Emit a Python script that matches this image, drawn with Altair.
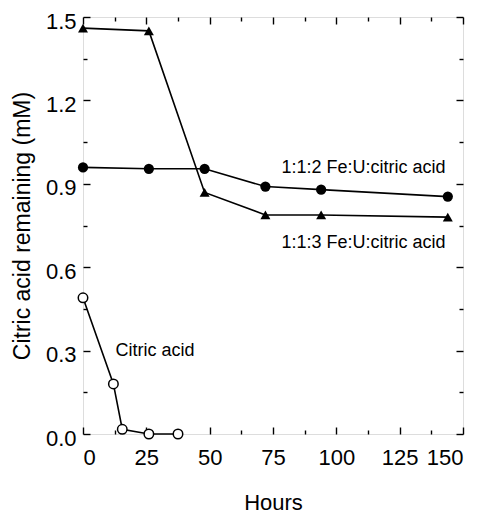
import altair as alt
import pandas as pd

# ---- data ----
hours_tri = [0, 26, 48, 72, 94, 144]
conc_tri = [1.46, 1.45, 0.869, 0.788, 0.788, 0.78]

hours_fill = [0, 26, 48, 72, 94, 144]
conc_fill = [0.959, 0.954, 0.954, 0.89, 0.879, 0.854]

hours_open = [0, 12, 15.5, 26, 37.5]
conc_open = [0.49, 0.18, 0.017, 0.0, 0.0]

label_text = ["1:1:2 Fe:U:citric acid", "1:1:3 Fe:U:citric acid", "Citric acid"]
label_x = [110.7, 110.7, 28.4]
label_y = [0.957, 0.686, 0.297]

x_major = [0, 25, 50, 75, 100, 125, 150]
x_minor = [12.5, 37.5, 62.5, 87.5, 112.5, 137.5]
y_major = [0.0, 0.3, 0.6, 0.9, 1.2, 1.5]
y_minor = [0.15, 0.45, 0.75, 1.05, 1.35]

W, H = 380, 417
FONT = "Liberation Sans"

tri = pd.DataFrame({"h": hours_tri, "c": conc_tri, "s": "1:1:3"})
fil = pd.DataFrame({"h": hours_fill, "c": conc_fill, "s": "1:1:2"})
opn = pd.DataFrame({"h": hours_open, "c": conc_open, "s": "citric"})
allser = pd.concat([tri, fil, opn], ignore_index=True)
labels = pd.DataFrame({"t": label_text, "h": label_x, "c": label_y})

xs = alt.Scale(domain=[0, 150], nice=False)
ys = alt.Scale(domain=[0, 1.5], nice=False)


def tick_axis(orient, offset, values, size):
    return alt.Axis(orient=orient, offset=offset, values=values, labels=False,
                    domain=False, grid=False, tickSize=size, tickWidth=1.4,
                    tickColor="black", title=None)


x_label_axis = alt.Axis(orient="bottom", values=x_major, ticks=False, tickSize=0,
                        domain=False, grid=False, labelPadding=13, labelFontSize=22,
                        labelFont=FONT, labelColor="black", format="d",
                        title="Hours", titleFont=FONT, titleFontSize=22,
                        titleFontWeight="normal", titleColor="black", titlePadding=24)
y_label_axis = alt.Axis(orient="left", values=y_major, ticks=False, tickSize=0,
                        domain=False, grid=False, labelPadding=7, labelFontSize=22,
                        labelFont=FONT, labelColor="black", format=".1f", labelOffset=4,
                        title="Citric acid remaining (mM)", titleFont=FONT,
                        titleFontSize=23, titleFontWeight="normal", titleColor="black",
                        titlePadding=11)

lines = alt.Chart(allser).mark_line(color="black", strokeWidth=1.6).encode(
    x=alt.X("h:Q", scale=xs, axis=x_label_axis),
    y=alt.Y("c:Q", scale=ys, axis=y_label_axis),
    detail="s:N",
)

tri_pts = alt.Chart(tri).mark_point(shape="triangle-up", filled=True, color="black",
                                     size=100, opacity=1).encode(
    x=alt.X("h:Q", scale=xs, axis=tick_axis("top", -H, x_major, 7)),
    y=alt.Y("c:Q", scale=ys, axis=tick_axis("right", -W, y_major, 7)),
)

fil_pts = alt.Chart(fil).mark_point(shape="circle", filled=True, color="black",
                                     size=105, opacity=1).encode(
    x=alt.X("h:Q", scale=xs, axis=tick_axis("top", -H, x_minor, 4)),
    y=alt.Y("c:Q", scale=ys, axis=tick_axis("right", -W, y_minor, 4)),
)

opn_pts = alt.Chart(opn).mark_point(shape="circle", filled=True, fill="white",
                                     stroke="black", strokeWidth=1.5, size=90,
                                     opacity=1).encode(
    x=alt.X("h:Q", scale=xs, axis=tick_axis("bottom", -H, x_major, 7)),
    y=alt.Y("c:Q", scale=ys, axis=tick_axis("left", -W, y_major, 7)),
)

txt = alt.Chart(labels).mark_text(font=FONT, fontSize=18, color="black",
                                  align="center", baseline="middle").encode(
    x=alt.X("h:Q", scale=xs, axis=tick_axis("bottom", -H, x_minor, 4)),
    y=alt.Y("c:Q", scale=ys, axis=tick_axis("left", -W, y_minor, 4)),
    text="t:N",
)

chart = alt.layer(lines, tri_pts, fil_pts, opn_pts, txt).resolve_axis(
    x="independent", y="independent"
).properties(
    width=W, height=H,
    autosize=alt.AutoSizeParams(type="none"),
    padding={"left": 75, "top": 9, "right": 13, "bottom": 80},
).configure_view(stroke="black", strokeWidth=1.6).configure(background="white")

chart.save("out.html", embed_options={"renderer": "svg", "actions": False})
